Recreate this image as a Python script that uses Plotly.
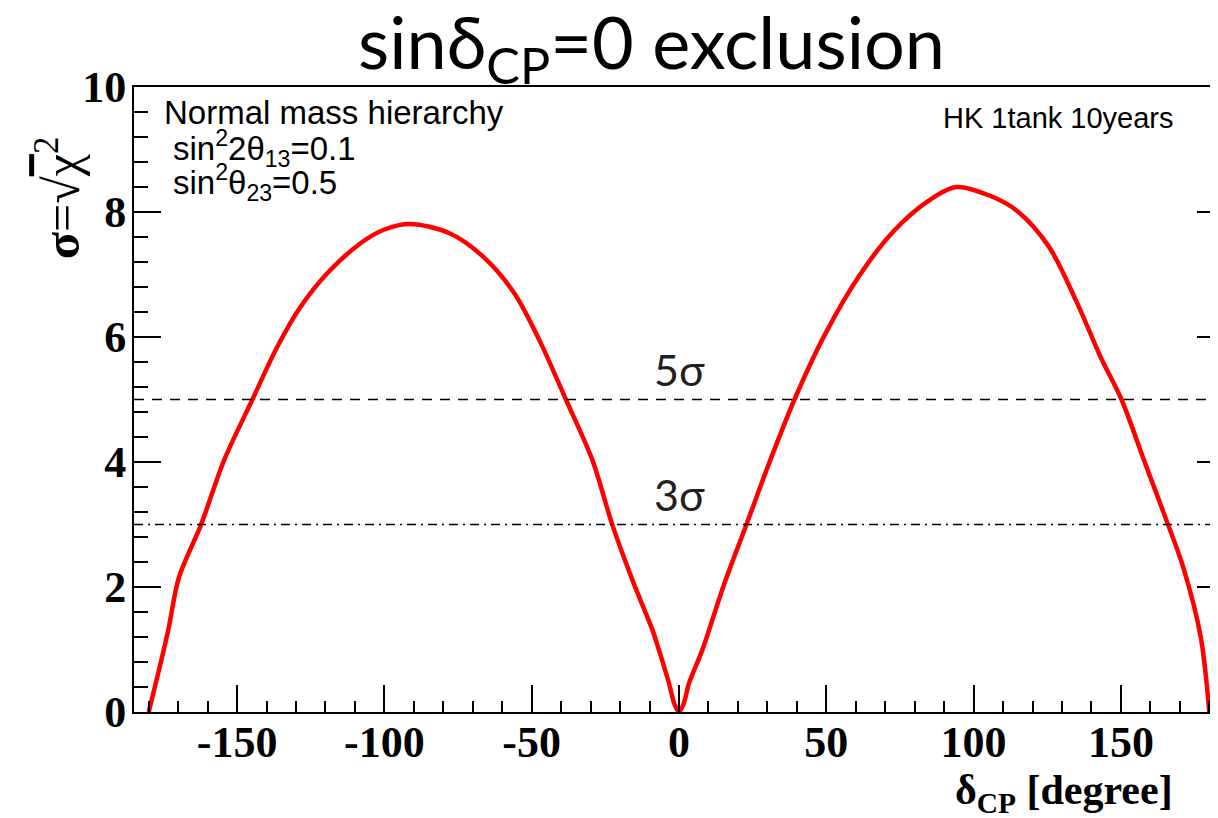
import plotly.graph_objects as go

# ---- data ----
delta_cp = [-180, -173.6, -169.7, -162.3, -154.4, -144.8, -136.4, -128.5, -119.4, -108.1, -100,
            -91.3, -77.9, -66.6, -55.9, -47.4, -38.4, -29.4, -22.6, -15.8, -9.0, -6.8, -3.4, -1.5, 0,
            1.5, 3.4, 7.9, 15.2, 22.9, 30.5, 39.2, 49.2, 60.9, 72.6, 84.4, 94.0, 105.6, 115.0,
            125.5, 134.9, 143.1, 150.2, 158.3, 166.0, 171.2, 177.1, 180]
sigma = [0, 1.26, 2.16, 2.99, 4.03, 5.0, 5.84, 6.48, 7.02, 7.50, 7.72,
         7.81, 7.66, 7.29, 6.70, 5.95, 5.0, 4.03, 2.99, 2.11, 1.31, 0.99, 0.46, 0.12, 0,
         0.12, 0.46, 0.99, 2.03, 3.0, 3.97, 5.0, 6.01, 6.96, 7.68, 8.17, 8.40, 8.26, 8.01,
         7.45, 6.57, 5.68, 5.0, 3.97, 3.0, 2.31, 1.20, 0]
sigma_levels = [5, 3]
sigma_labels = ["5σ", "3σ"]
x_tickvals = [-150, -100, -50, 0, 50, 100, 150]
x_ticktext = ["-150", "-100", "-50", "0", "50", "100", "150"]
x_range = [-185, 185]
y_range = [0, 10]

OFF = 8  # page body margin
W, H = 1218, 810
L, R, T, B = 126, 0, 79, 106


def px(x):  # page pixel -> paper x
    return (x - OFF - L) / (W - L - R)


def py(y):  # page pixel -> paper y
    return (H - B - (y - OFF)) / (H - B - T)


fig = go.Figure()
fig.add_trace(go.Scatter(x=delta_cp, y=sigma, mode="lines",
                         line=dict(color="#ff0000", width=4.5, shape="spline", smoothing=0.9),
                         showlegend=False, hoverinfo="skip"))

# sigma reference lines
dashes = ["10px,8px", "9px,5px,2px,5px"]
for lvl, lab, dsh in zip(sigma_levels, sigma_labels, dashes):
    fig.add_shape(type="line", xref="x", yref="y", x0=x_range[0], x1=x_range[1], y0=lvl, y1=lvl,
                  line=dict(color="black", width=1.5, dash=dsh))
    fig.add_annotation(x=0.3, y=lvl, xref="x", yref="y", text=lab, showarrow=False,
                       xanchor="center", yanchor="bottom", yshift=3,
                       font=dict(family="Lato", size=43, color="#231f20"))

# title
fig.add_annotation(x=px(652), y=py(47), xref="paper", yref="paper",
                   text="sinδ<sub>CP</sub>=0 exclusion", showarrow=False,
                   xanchor="center", yanchor="middle",
                   font=dict(family="Lato", size=72, color="black"))

# inside texts
txtfont = dict(family="Liberation Sans", size=33, color="black")
fig.add_annotation(x=px(162), y=py(112), xref="paper", yref="paper",
                   text="Normal mass hierarchy", showarrow=False, xanchor="left", yanchor="middle",
                   font=txtfont)
fig.add_annotation(x=px(171), y=py(148), xref="paper", yref="paper",
                   text="sin<sup>2</sup>2θ<sub>13</sub>=0.1", showarrow=False, xanchor="left", yanchor="middle",
                   font=txtfont)
fig.add_annotation(x=px(171), y=py(183), xref="paper", yref="paper",
                   text="sin<sup>2</sup>θ<sub>23</sub>=0.5", showarrow=False, xanchor="left", yanchor="middle",
                   font=txtfont)
fig.add_annotation(x=px(1178), y=py(118), xref="paper", yref="paper",
                   text="HK 1tank 10years", showarrow=False, xanchor="right", yanchor="middle",
                   font=dict(family="Liberation Sans", size=29, color="black"))

# axis titles
fig.add_annotation(x=px(58), y=py(198), xref="paper", yref="paper", textangle=-90,
                   text="<b>σ</b>=√<span style='text-decoration:overline'>χ</span><sup>2</sup>",
                   showarrow=False, xanchor="center", yanchor="middle",
                   font=dict(family="Liberation Serif", size=50, color="black"))
fig.add_annotation(x=px(1177), y=py(793), xref="paper", yref="paper",
                   text="<b>δ<sub>CP</sub> [degree]</b>", showarrow=False,
                   xanchor="right", yanchor="middle",
                   font=dict(family="Liberation Serif", size=42, color="black"))

tickfont = dict(family="Liberation Serif", size=44, color="black", weight="bold")
fig.update_xaxes(range=x_range, showgrid=False, zeroline=False,
                 showline=True, linecolor="black", linewidth=2, mirror=True,
                 ticks="inside", ticklen=27, tickwidth=1.5, tickcolor="black",
                 tickvals=x_tickvals, ticktext=x_ticktext, tickfont=tickfont,
                 ticklabelstandoff=-10,
                 minor=dict(ticks="inside", ticklen=11, tickwidth=1.5, tickcolor="black",
                            tickvals=list(range(-180, 181, 10))))
fig.update_yaxes(range=y_range, showgrid=False, zeroline=False,
                 showline=True, linecolor="black", linewidth=2, mirror="ticks",
                 ticks="inside", ticklen=27, tickwidth=1.5, tickcolor="black",
                 tick0=0, dtick=2, tickfont=tickfont, ticklabelstandoff=-3,
                 minor=dict(ticks="inside", ticklen=14, tickwidth=1.5, tickcolor="black", dtick=0.4, tick0=0))

fig.update_layout(width=W, height=H, margin=dict(l=L, r=R, t=T, b=B),
                  paper_bgcolor="white", plot_bgcolor="white", showlegend=False)

fig.write_html("out.html")
